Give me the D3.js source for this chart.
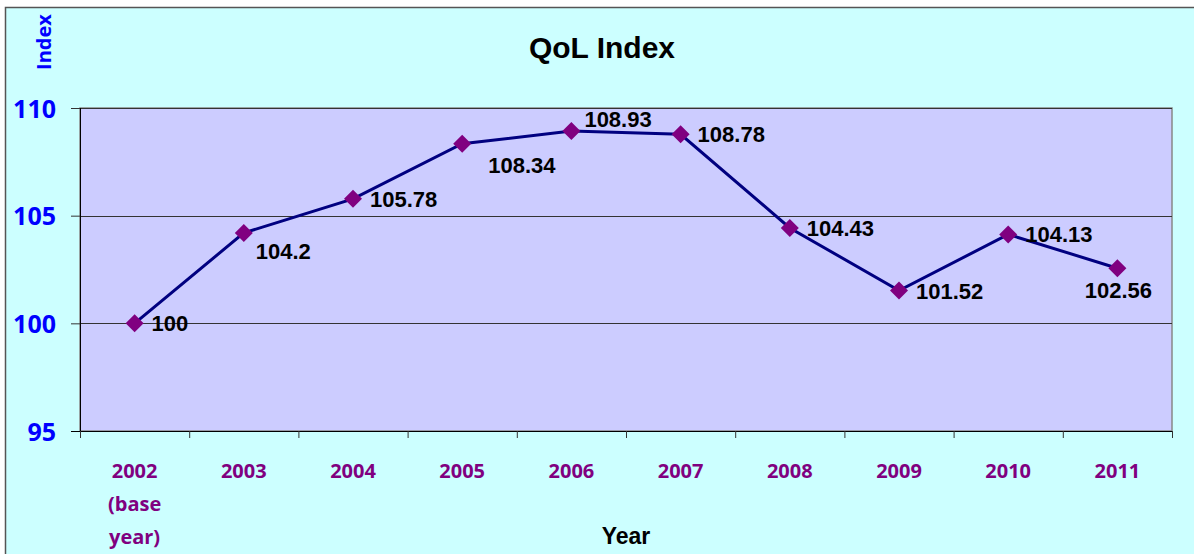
<!DOCTYPE html>
<html>
<head>
<meta charset="utf-8">
<script src="https://cdn.jsdelivr.net/npm/d3@7"></script>
<style>
  html, body { margin: 0; padding: 0; background: #ffffff; }
  svg { display: block; }
</style>
</head>
<body>
<svg id="chart" width="1194" height="554"></svg>
<script>
// data
var years = ['2002', '2003', '2004', '2005', '2006', '2007', '2008', '2009', '2010', '2011'];
var yearLabels = [['2002', '(base', 'year)'], ['2003'], ['2004'], ['2005'], ['2006'], ['2007'], ['2008'], ['2009'], ['2010'], ['2011']];
var qolValues = [100, 104.2, 105.78, 108.34, 108.93, 108.78, 104.43, 101.52, 104.13, 102.56];
var valueLabels = ['100', '104.2', '105.78', '108.34', '108.93', '108.78', '104.43', '101.52', '104.13', '102.56'];
var yTicks = [95, 100, 105, 110];
// where each data label sits relative to its marker
var labelSpots = ['right', 'belowRight', 'right', 'belowRightFar', 'aboveRight', 'right', 'right', 'right', 'right', 'below'];

var svg = d3.select('#chart');
var plot = { left: 80, right: 1172, top: 108, bottom: 431 };

// chart background
svg.append('rect')
    .attr('x', 5.5).attr('y', 7.5)
    .attr('width', 1200).attr('height', 560)
    .style('fill', '#ccffff')
    .style('stroke', '#555555')
    .style('stroke-width', 1.5);

var x = d3.scaleBand().domain(years).range([plot.left, plot.right]);
var y = d3.scaleLinear().domain([95, 110]).range([plot.bottom, plot.top]);

// plot area
svg.append('rect')
    .attr('x', plot.left).attr('y', plot.top)
    .attr('width', plot.right - plot.left).attr('height', plot.bottom - plot.top)
    .style('fill', '#ccccff')
    .style('stroke', '#888888')
    .style('stroke-width', 1.5);

// gridlines
svg.append('g').selectAll('line')
    .data(yTicks.filter(function(d){ return d > 95; }))
    .enter().append('line')
    .attr('x1', plot.left).attr('x2', plot.right)
    .attr('y1', function(d){ return Math.round(y(d)) + 0.5; })
    .attr('y2', function(d){ return Math.round(y(d)) + 0.5; })
    .style('stroke', '#333333')
    .style('stroke-width', 1);

// y axis
var yAxis = svg.append('g')
    .attr('transform', 'translate(' + plot.left + ',0)')
    .call(d3.axisLeft(y).tickValues(yTicks).tickSize(9).tickPadding(15).tickFormat(d3.format('d')));
yAxis.select('.domain').attr('d', 'M0.5,' + plot.top + 'V' + (plot.bottom + 7)).style('stroke', '#000');
yAxis.selectAll('.tick line').style('stroke', '#333');
yAxis.selectAll('.tick text')
    .style('font-family', '"Open Sans", sans-serif')
    .style('font-weight', 'bold')
    .style('font-size', '25px')
    .style('fill', '#0000ff')
    .attr('dy', '0.36em');

// x axis
var xAxis = svg.append('g')
    .attr('transform', 'translate(0,' + plot.bottom + ')')
    .call(d3.axisBottom(x).tickSize(0).tickFormat(''));
xAxis.select('.domain').attr('d', 'M' + (plot.left - 9) + ',0.5H' + plot.right).style('stroke', '#000');
xAxis.selectAll('.tick').remove();
xAxis.selectAll('.boundary')
    .data(years.concat(['end']))
    .enter().append('line')
    .attr('class', 'boundary')
    .attr('x1', function(d, i){ return plot.left + i * x.bandwidth() + 0.5; })
    .attr('x2', function(d, i){ return plot.left + i * x.bandwidth() + 0.5; })
    .attr('y1', 0).attr('y2', 7)
    .style('stroke', '#333');

// category labels
var catText = svg.append('g').selectAll('text')
    .data(yearLabels)
    .enter().append('text')
    .attr('x', function(d, i){ return x(years[i]) + x.bandwidth() / 2; })
    .attr('y', 478)
    .attr('text-anchor', 'middle')
    .style('font-family', '"Open Sans", sans-serif')
    .style('font-weight', 'bold')
    .style('font-size', '20px')
    .style('fill', '#800080');
catText.selectAll('tspan')
    .data(function(d){ return d; })
    .enter().append('tspan')
    .attr('x', function(){ return d3.select(this.parentNode).attr('x'); })
    .attr('dy', function(d, i){ return i === 0 ? 0 : 33; })
    .text(function(d){ return d; });

// line
var line = d3.line()
    .x(function(d, i){ return x(years[i]) + x.bandwidth() / 2; })
    .y(function(d){ return y(d); });
svg.append('path')
    .datum(qolValues)
    .attr('d', line)
    .style('fill', 'none')
    .style('stroke', '#000080')
    .style('stroke-width', 3);

// diamond markers
svg.append('g').selectAll('path')
    .data(qolValues)
    .enter().append('path')
    .attr('transform', function(d, i){ return 'translate(' + (x(years[i]) + x.bandwidth() / 2) + ',' + y(d) + ')'; })
    .attr('d', 'M0,-9L9,0L0,9L-9,0Z')
    .style('fill', '#800080');

// data labels
var spotOffset = {
    right: [17, 0, 'start'],
    belowRight: [12, 18, 'start'],
    belowRightFar: [26, 21, 'start'],
    aboveRight: [13, -12, 'start'],
    below: [1, 22, 'middle']
};
svg.append('g').selectAll('text')
    .data(qolValues)
    .enter().append('text')
    .attr('x', function(d, i){ return x(years[i]) + x.bandwidth() / 2 + spotOffset[labelSpots[i]][0]; })
    .attr('y', function(d, i){ return y(d) + spotOffset[labelSpots[i]][1]; })
    .attr('dy', '0.36em')
    .attr('text-anchor', function(d, i){ return spotOffset[labelSpots[i]][2]; })
    .style('font-family', '"Liberation Sans", Arial, sans-serif')
    .style('font-weight', 'bold')
    .style('font-size', '22px')
    .style('fill', '#000')
    .text(function(d, i){ return valueLabels[i]; });

// titles
svg.append('text')
    .attr('x', 602).attr('y', 58)
    .attr('text-anchor', 'middle')
    .style('font-family', '"Liberation Sans", Arial, sans-serif')
    .style('font-weight', 'bold')
    .style('font-size', '30px')
    .text('QoL Index');

svg.append('text')
    .attr('x', 626).attr('y', 544)
    .attr('text-anchor', 'middle')
    .style('font-family', '"Liberation Sans", Arial, sans-serif')
    .style('font-weight', 'bold')
    .style('font-size', '23px')
    .text('Year');

svg.append('text')
    .attr('transform', 'translate(51,42) rotate(-90)')
    .attr('text-anchor', 'middle')
    .style('font-family', '"Open Sans", sans-serif')
    .style('font-weight', 'bold')
    .style('font-size', '20px')
    .style('fill', '#0000ff')
    .text('Index');
</script>
</body>
</html>
